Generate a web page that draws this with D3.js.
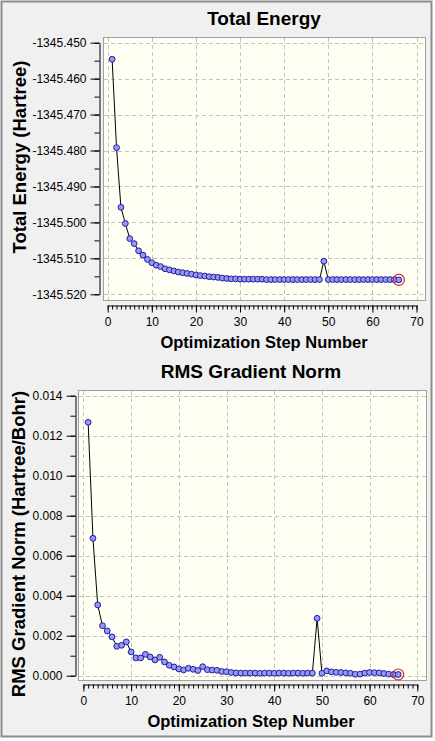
<!DOCTYPE html>
<meta charset="UTF-8">
<html>
<head>
	<title>Optimization</title>
	<script src="https://d3js.org/d3.v7.min.js"></script>
	<style>
		body { margin: 0; background: #ffffff; }
		svg text { font-family: "Liberation Sans", Arial, sans-serif; fill: #000; }
	</style>
</head>
<body>
	<svg id="opt_plot" width="435" height="741"></svg>

	<script>
		// Values
		var energy = [
			-1345.4546, -1345.4792, -1345.4958, -1345.5003, -1345.5045, -1345.5059, -1345.5079, -1345.5091, -1345.5103, -1345.5112,
			-1345.5119, -1345.5123, -1345.5129, -1345.5132, -1345.5135, -1345.5138, -1345.5140, -1345.5142, -1345.5144, -1345.5146,
			-1345.5148, -1345.5149, -1345.5151, -1345.5152, -1345.5153, -1345.5155, -1345.5156, -1345.5157, -1345.5157, -1345.5158,
			-1345.5158, -1345.5158, -1345.5158, -1345.5158, -1345.5158, -1345.5159, -1345.5159, -1345.5159, -1345.5159, -1345.5159,
			-1345.5159, -1345.5159, -1345.5159, -1345.5159, -1345.5159, -1345.5159, -1345.5159, -1345.5159, -1345.5108, -1345.5159,
			-1345.5159, -1345.5159, -1345.5159, -1345.5159, -1345.5159, -1345.5159, -1345.5159, -1345.5159, -1345.5159, -1345.5159,
			-1345.5159, -1345.5159, -1345.5159, -1345.5159, -1345.5159, -1345.5160
		];
		var gradient = [
			0.01267, 0.00687, 0.00354, 0.00250, 0.00224, 0.00194, 0.00147, 0.00152, 0.00169, 0.00119,
			0.00089, 0.00089, 0.00107, 0.00094, 0.00079, 0.00092, 0.00069, 0.00052, 0.00044, 0.00034,
			0.00029, 0.00037, 0.00032, 0.00026, 0.00045, 0.00030, 0.00028, 0.00027, 0.00021, 0.00020,
			0.00016, 0.00014, 0.00013, 0.00013, 0.00013, 0.00013, 0.00012, 0.00013, 0.00013, 0.00012,
			0.00013, 0.00013, 0.00012, 0.00013, 0.00013, 0.00012, 0.00013, 0.00013, 0.00287, 0.00012,
			0.00024, 0.00019, 0.00017, 0.00016, 0.00014, 0.00012, 0.00007, 0.00008, 0.00013, 0.00016,
			0.00015, 0.00014, 0.00011, 0.00008, 0.00006, 0.00006
		];
		var stepTicks = [0, 10, 20, 30, 40, 50, 60, 70];
		var energyTicks = [-1345.450, -1345.460, -1345.470, -1345.480, -1345.490, -1345.500, -1345.510, -1345.520];
		var gradTicks = [0.000, 0.002, 0.004, 0.006, 0.008, 0.010, 0.012, 0.014];

		var svg = d3.select("#opt_plot");

		// window frame
		svg.append("rect")
			.attr("x", 1.5).attr("y", 1.5)
			.attr("width", 430).attr("height", 735)
			.style("fill", "#f0f0f0")
			.style("stroke", "#8c8c8c")
			.style("stroke-width", 2);

		function draw_panel(p){
			var x = d3.scaleLinear()
				.domain([0, 70])
				.range([p.x0, p.x70]);
			var y = d3.scaleLinear()
				.domain(d3.extent(p.ticks))
				.range([p.yBottom, p.yTop]);

			// plot area
			svg.append("rect")
				.attr("x", p.left + 0.5)
				.attr("y", p.top + 0.5)
				.attr("width", p.right - p.left)
				.attr("height", p.bottom - p.top)
				.style("fill", "#fffff4")
				.style("stroke", "#a0a0a0")
				.style("stroke-width", 1);

			// grid
			svg.append("g").selectAll("line")
				.data(stepTicks)
				.enter()
				.append("line")
					.attr("x1", function(d){ return Math.round(x(d)) + 0.5; })
					.attr("x2", function(d){ return Math.round(x(d)) + 0.5; })
					.attr("y1", p.top + 1)
					.attr("y2", p.bottom)
					.style("stroke", "#c4c4c4")
					.style("stroke-dasharray", "4,3");
			svg.append("g").selectAll("line")
				.data(p.ticks)
				.enter()
				.append("line")
					.attr("x1", p.left + 1)
					.attr("x2", p.right)
					.attr("y1", function(d){ return Math.round(y(d)) + 0.5; })
					.attr("y2", function(d){ return Math.round(y(d)) + 0.5; })
					.style("stroke", "#c4c4c4")
					.style("stroke-dasharray", "4,3");

			// axes
			var minorY = d3.range(p.ticks.length * 2 - 1).map(function(i){
				return y.invert(p.yBottom + (p.yTop - p.yBottom) * i / (p.ticks.length * 2 - 2));
			});
			svg.append("g")
				.attr("transform", "translate(" + p.yAxisX + ",0)")
				.call(d3.axisLeft(y).tickValues(p.ticks).tickSize(9).tickSizeOuter(0)
					.tickPadding(p.yPad).tickFormat(p.fmt));
			svg.append("g")
				.attr("transform", "translate(" + p.yAxisX + ",0)")
				.call(d3.axisLeft(y).tickValues(minorY).tickSize(5).tickFormat(""))
				.select(".domain").remove();

			svg.append("g")
				.attr("transform", "translate(0," + p.xAxisY + ")")
				.call(d3.axisBottom(x).tickValues(stepTicks).tickSize(7).tickSizeOuter(0)
					.tickPadding(p.xPad).tickFormat(d3.format("d")));
			svg.append("g")
				.attr("transform", "translate(0," + p.xAxisY + ")")
				.call(d3.axisBottom(x).tickValues(d3.range(0, 71)).tickSize(4).tickFormat(""))
				.select(".domain").remove();

			svg.selectAll(".tick text")
				.attr("font-family", "'Liberation Sans', Arial, sans-serif")
				.attr("font-size", 12);
			svg.selectAll(".domain, .tick line").style("stroke", "#000");

			// titles
			svg.append("text")
				.attr("x", p.titleX).attr("y", p.titleY)
				.attr("text-anchor", "middle")
				.style("font-size", "19px")
				.style("font-weight", "bold")
				.text(p.title);
			svg.append("text")
				.attr("x", p.titleX).attr("y", p.xLabelY)
				.attr("text-anchor", "middle")
				.style("font-size", "16.5px")
				.style("font-weight", "bold")
				.text("Optimization Step Number");
			svg.append("text")
				.attr("transform", "translate(" + p.yLabelX + "," + p.yLabelY + ") rotate(-90)")
				.attr("text-anchor", "middle")
				.style("font-size", "18.5px")
				.style("font-weight", "bold")
				.text(p.yLabel);

			// series
			var line = d3.line()
				.x(function(d, i){ return x(i + 1); })
				.y(function(d){ return y(d); });
			svg.append("path")
				.datum(p.values)
				.attr("d", line)
				.style("fill", "none")
				.style("stroke", "#000")
				.style("stroke-width", 1);
			svg.append("g").selectAll("circle")
				.data(p.values)
				.enter()
				.append("circle")
					.attr("cx", function(d, i){ return x(i + 1); })
					.attr("cy", function(d){ return y(d); })
					.attr("r", 2.9)
					.style("fill", "#9898ee")
					.style("stroke", "#1c1ca8")
					.style("stroke-width", 1);
			var last = p.values.length;
			svg.append("circle")
				.attr("cx", x(last))
				.attr("cy", y(p.values[last - 1]))
				.attr("r", 5.5)
				.style("fill", "none")
				.style("stroke", "#d42828")
				.style("stroke-width", 1.2);
		}

		draw_panel({
			values: energy, ticks: energyTicks, title: "Total Energy",
			yLabel: "Total Energy (Hartree)",
			fmt: function(d){ return d.toFixed(3); },
			left: 103, right: 425, top: 37, bottom: 300,
			x0: 107.7, x70: 416.5, yTop: 42.7, yBottom: 294.3,
			yAxisX: 99.5, xAxisY: 305.5, yPad: 4, xPad: 5,
			titleX: 264, titleY: 25, xLabelY: 348, yLabelX: 26, yLabelY: 157
		});

		draw_panel({
			values: gradient, ticks: gradTicks, title: "RMS Gradient Norm",
			yLabel: "RMS Gradient Norm (Hartree/Bohr)",
			fmt: function(d){ return d.toFixed(3); },
			left: 78, right: 426, top: 390, bottom: 680,
			x0: 83.4, x70: 417.3, yTop: 395.7, yBottom: 675.7,
			yAxisX: 75.5, xAxisY: 684.5, yPad: 4, xPad: 5,
			titleX: 251, titleY: 378, xLabelY: 727, yLabelX: 25, yLabelY: 544
		});
	</script>
</body>
</html>
